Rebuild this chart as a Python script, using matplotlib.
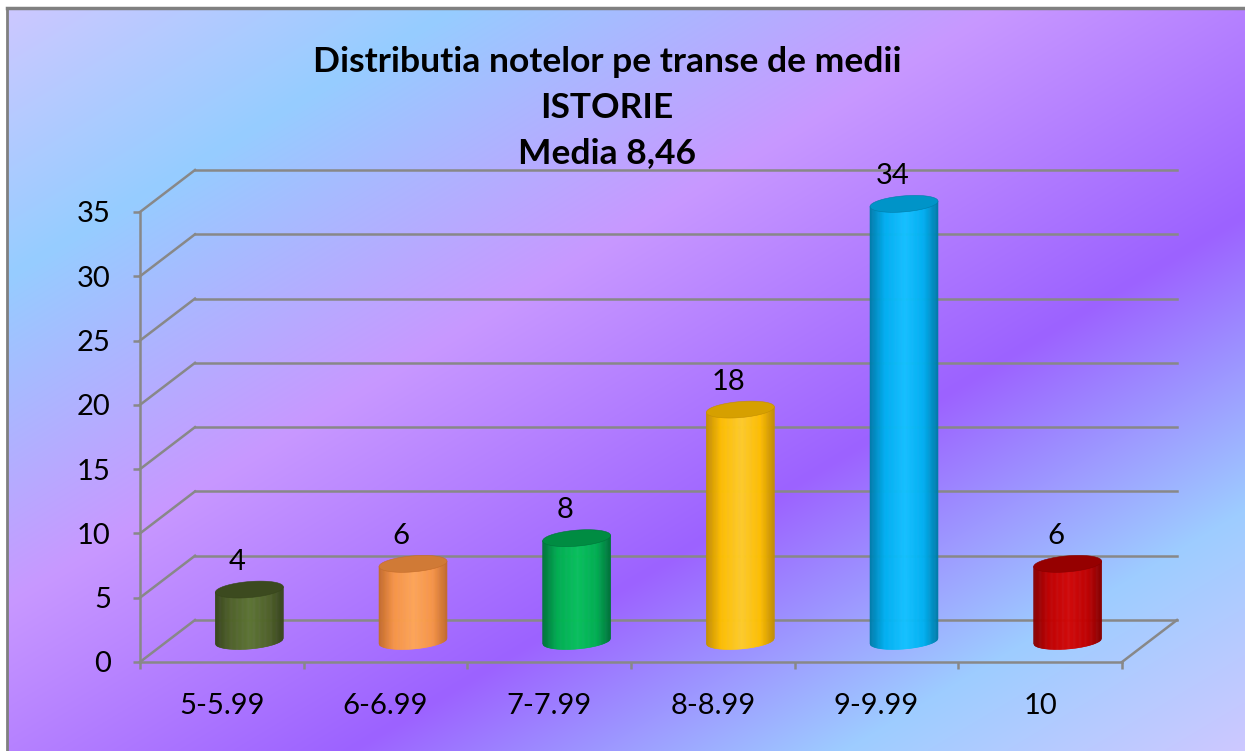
import numpy as np
import matplotlib.pyplot as plt
from matplotlib.collections import PolyCollection
from matplotlib.patches import Polygon
from matplotlib.colors import LinearSegmentedColormap, to_rgb

# date
categories = ['5-5.99', '6-6.99', '7-7.99', '8-8.99', '9-9.99', '10']
values = [4, 6, 8, 18, 34, 6]
yticks = [0, 5, 10, 15, 20, 25, 30, 35]
title_lines = ['Distributia notelor pe transe de medii', 'ISTORIE', 'Media 8,46']

# culori cilindri: (umbra, baza, lumina, capac)
cyl_colors = [
    ('#37451b', '#4f6228', '#5d7533', '#3c4a1f'),
    ('#c46c2a', '#f79646', '#ffa757', '#d07a36'),
    ('#00743a', '#00b050', '#08c25c', '#008c42'),
    ('#c48f00', '#ffc000', '#ffcd2a', '#d6a000'),
    ('#007ca8', '#00b0f0', '#14c2ff', '#0094c8'),
    ('#860000', '#c00000', '#d20808', '#960000'),
]

plt.rcParams['font.family'] = ['Lato', 'DejaVu Sans']

W, H = 1245, 751
fig = plt.figure(figsize=(W / 100, H / 100), dpi=100)
fig.patch.set_facecolor('white')

# fundal cu gradient diagonal
bg = fig.add_axes([0, 0, 1, 1])
bg.set_xlim(0, W)
bg.set_ylim(H, 0)
bg.axis('off')
gx, gy = np.meshgrid(np.linspace(0, 1, 620), np.linspace(0, 1, 372))
t = (gx + gy) / 2
stops = [0.0, 0.18, 0.40, 0.64, 0.84, 1.0]
stop_cols = np.array([(205, 200, 255), (150, 205, 255), (200, 152, 255),
                      (156, 98, 255), (158, 205, 255), (205, 200, 255)]) / 255
img = np.dstack([np.interp(t, stops, stop_cols[:, c]) for c in range(3)])
bg.imshow(img, extent=[7, W, H, 8], aspect='auto', interpolation='bilinear')
bg.plot([7, 7], [8, H], color='#808080', lw=2)
bg.plot([7, W], [8, 8], color='#808080', lw=2.5)

# axa principala (planul din fata)
left, right, bot, top = 140, 1122, 662, 212
ax = fig.add_axes([left / W, (H - bot) / H, (right - left) / W, (bot - top) / H])
ax.patch.set_alpha(0)
n = len(categories)
ax.set_xlim(0, n)
ax.set_ylim(0, 35)

sx = (right - left) / n      # pixeli pe unitate x
sy = (bot - top) / 35        # pixeli pe unitate y
dx, dy = 55 / sx, 42 / sy    # adancime 3D

grid_c = '#888888'
for v in yticks:
    ax.plot([dx, n + dx], [v + dy, v + dy], color=grid_c, lw=1.8, clip_on=False, zorder=1)
    ax.plot([0, dx], [v, v + dy], color=grid_c, lw=1.8, clip_on=False, zorder=1)
ax.plot([n, n + dx], [0, dy], color=grid_c, lw=1.8, clip_on=False, zorder=1)

for s in ['top', 'right']:
    ax.spines[s].set_visible(False)
for s in ['left', 'bottom']:
    ax.spines[s].set_color(grid_c)
    ax.spines[s].set_linewidth(1.8)

fs = 21
ax.set_yticks(yticks)
ax.tick_params(axis='y', direction='out', length=5, width=1.8, color=grid_c,
               labelsize=fs, pad=16)
ax.set_xticks(np.arange(n + 1))
ax.set_xticklabels([])
ax.set_xticks(np.arange(n) + 0.5, minor=True)
ax.set_xticklabels(categories, minor=True)
ax.tick_params(axis='x', which='major', direction='out', length=5, width=1.8, color=grid_c)
ax.tick_params(axis='x', which='minor', length=0, labelsize=fs, pad=22)

# cilindri
a_px, b_px, k = 34, 8, 0.08
us = np.linspace(-a_px, a_px, 81)
for i, (v, (dark, base, light, capc)) in enumerate(zip(values, cyl_colors)):
    cmap = LinearSegmentedColormap.from_list(
        'c', [(0, dark), (0.22, base), (0.52, light), (0.8, base), (1, dark)])
    xc = i + 0.5 + dx / 2
    yb = dy / 2
    yt = v + dy / 2
    polys, cols = [], []
    for u0, u1 in zip(us[:-1], us[1:]):
        def ybot(u):
            return yb + (k * u - b_px * np.sqrt(max(0, 1 - (u / a_px) ** 2))) / sy
        polys.append([(xc + u0 / sx, ybot(u0)), (xc + u1 / sx, ybot(u1)),
                      (xc + u1 / sx, yt + k * u1 / sy), (xc + u0 / sx, yt + k * u0 / sy)])
        cols.append(cmap((u0 + u1) / 2 / (2 * a_px) + 0.5))
    pc = PolyCollection(polys, facecolors=cols, edgecolors=cols, linewidths=0.4,
                        clip_on=False, zorder=3)
    ax.add_collection(pc)
    tt = np.linspace(0, 2 * np.pi, 100)
    uu = a_px * np.cos(tt)
    vv = b_px * np.sin(tt) + k * uu
    ax.add_patch(Polygon(np.column_stack([xc + uu / sx, yt + vv / sy]), closed=True,
                         facecolor=capc, edgecolor=to_rgb(dark), lw=0.4,
                         clip_on=False, zorder=4))
    ax.annotate(str(v), xy=(xc, yt), xytext=(-8.5, 20), textcoords='offset points',
                ha='center', va='center', fontsize=fs, zorder=5, annotation_clip=False)

# titlu
for line, yb_px in zip(title_lines, [72, 118, 163]):
    fig.text(607 / W, 1 - yb_px / H, line, ha='center', va='baseline',
             fontsize=25.5, fontweight='bold')

fig.savefig('out.png', dpi=100)
